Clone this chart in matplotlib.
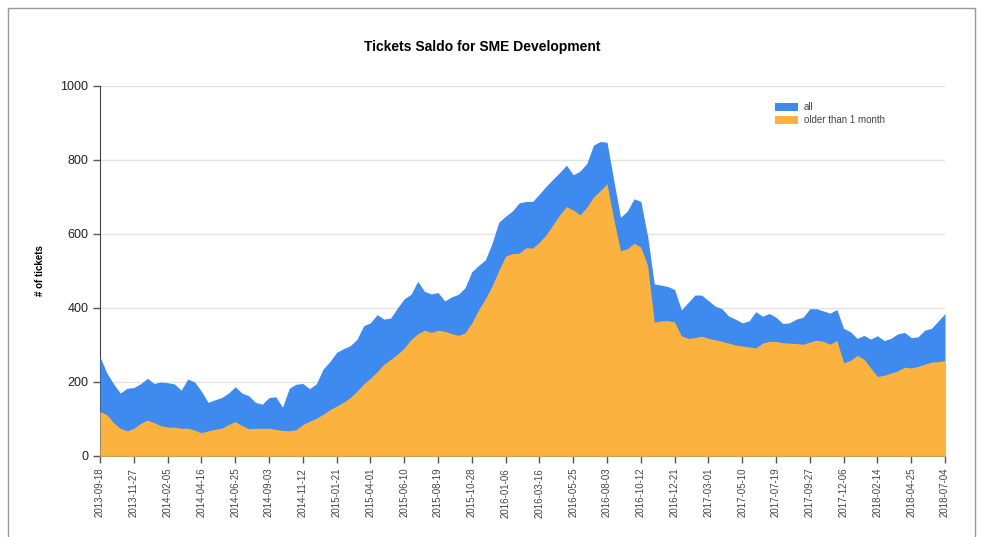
#!/usr/bin/env python3
import numpy as np
import pandas as pd
from matplotlib import pyplot as plt
from matplotlib.patches import Rectangle

################################################################################

start_date = '2013-09-18'
tick_step_days = 70
all_tickets = [
	268, 225, 195, 170, 183, 185, 195, 210, 196, 200,
	198, 195, 178, 208, 200, 175, 145, 152, 158, 170,
	187, 170, 163, 145, 140, 158, 160, 132, 183, 194,
	196, 182, 195, 235, 255, 280, 290, 298, 315, 352,
	360, 382, 370, 373, 400, 425, 437, 472, 445, 438,
	442, 419, 430, 437, 455, 498, 515, 530, 575, 632,
	648, 662, 684, 688, 688, 708, 729, 748, 766, 786,
	760, 770, 790, 840, 850, 848, 745, 645, 662, 695,
	688, 595, 465, 462, 458, 450, 395, 415, 435, 435,
	420, 405, 398, 378, 370, 360, 365, 390, 378, 385,
	375, 358, 360, 370, 375, 398, 398, 392, 386, 396,
	345, 336, 318, 326, 316, 325, 312, 318, 330, 334,
	320, 322, 340, 345, 365, 385]
older_tickets = [
	120, 112, 90, 75, 68, 75, 88, 97, 90, 82,
	78, 78, 75, 75, 70, 63, 68, 72, 75, 85,
	93, 82, 74, 75, 75, 75, 72, 69, 68, 71,
	85, 94, 102, 113, 125, 135, 145, 158, 175, 195,
	210, 228, 248, 261, 275, 292, 315, 330, 340, 334,
	340, 337, 331, 326, 333, 360, 395, 425, 460, 502,
	540, 547, 548, 563, 562, 578, 598, 625, 652, 674,
	665, 652, 672, 700, 717, 736, 640, 555, 560, 575,
	565, 515, 362, 365, 366, 362, 325, 318, 320, 324,
	318, 314, 310, 305, 300, 297, 295, 292, 305, 310,
	310, 306, 305, 304, 302, 308, 313, 310, 302, 312,
	252, 258, 272, 262, 238, 215, 218, 224, 230, 240,
	238, 242, 248, 254, 255, 258]
series_labels = ['all', 'older than 1 month']
y_ticks = [0, 200, 400, 600, 800, 1000]

################################################################################

if __name__ == '__main__':
	dates = pd.date_range(start_date, periods=len(all_tickets), freq='14D')
	tick_dates = pd.date_range(start_date, dates[-1], freq=f'{tick_step_days}D')
	blue = '#3e8aef'
	orange = '#fbb23e'
	plt.rcParams['font.family'] = ['Liberation Sans', 'DejaVu Sans']
	fig = plt.figure(figsize=(9.82, 5.37), dpi=100)
	ax = fig.add_axes([100/982, 1-456/537, 845/982, 370/537])
	ax.fill_between(dates, 0, all_tickets, color=blue, lw=0,
					label=series_labels[0], zorder=3)
	ax.fill_between(dates, 0, older_tickets, color=orange, lw=0,
					label=series_labels[1], zorder=4)
	ax.set_xlim(dates[0], dates[-1])
	ax.set_ylim(0, 1000)
	ax.set_yticks(y_ticks)
	ax.set_yticklabels([str(v) for v in y_ticks], fontsize=9, color='#222222')
	ax.set_xticks(tick_dates)
	ax.set_xticklabels([d.strftime('%Y-%m-%d') for d in tick_dates],
						rotation=90, fontsize=7, color='#444444')
	ax.tick_params(axis='both', length=5, width=1, color='#555555')
	ax.grid(True, axis='y', color='#e2e2e2', lw=1, zorder=1)
	ax.set_axisbelow(True)
	for side in ['top', 'right']:
		ax.spines[side].set_visible(False)
	ax.spines['left'].set_color('#444444')
	ax.spines['bottom'].set_color('#c9a550')
	ax.spines['bottom'].set_zorder(5)
	ax.set_ylabel('# of tickets', fontsize=7, fontweight='bold', labelpad=11)
	fig.text(482/982, 1-47/537, 'Tickets Saldo for SME Development',
			ha='center', va='center', fontsize=10, fontweight='bold')
	leg = ax.legend(loc='upper left', bbox_to_anchor=(0.788, 0.98),
					frameon=False, fontsize=7, handlelength=2.4,
					handleheight=0.9, labelspacing=0.3, handletextpad=0.6)
	for text in leg.get_texts():
		text.set_color('#444444')
	# thin grey frame around the picture
	fig.patches.append(Rectangle((8/982, -0.05), 967/982, 1.05-8/537,
						transform=fig.transFigure, fill=False,
						edgecolor='#9a9a9a', lw=1))
	plt.savefig('out.png', dpi=100)

################################################################################
# EOF
